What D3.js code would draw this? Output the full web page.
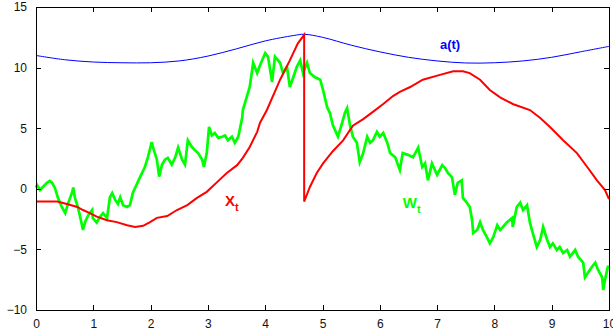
<!DOCTYPE html>
<html>
<head>
<meta charset="utf-8">
<script src="https://cdn.jsdelivr.net/npm/d3@7"></script>
<style>
body { margin: 0; background: #fff; }
svg { font-family: "Liberation Sans", Arial, Helvetica, sans-serif; }
</style>
</head>
<body>
<svg width="613" height="332"></svg>
<script>
// a(t): smooth boundary
var tA = [0, 0.5, 1, 1.5, 2, 2.5, 3, 3.5, 4, 4.5, 4.68, 5, 5.5, 6, 6.5, 7, 7.5, 8, 8.5, 9, 9.5, 10];
var A  = [11.0, 10.65, 10.46, 10.4, 10.4, 10.55, 10.95, 11.55, 12.2, 12.65, 12.75, 12.5, 11.85, 11.3, 10.85, 10.55, 10.38, 10.4, 10.55, 10.85, 11.3, 11.75];

// X_t (red)
var tX = [0, 0.37, 0.54, 0.72, 0.82, 0.94, 1.06, 1.24, 1.41, 1.59, 1.73, 1.87, 1.99, 2.11, 2.29, 2.46, 2.64, 2.81, 2.98,
  3.16, 3.33, 3.51, 3.61, 3.73, 3.86, 3.91, 4.03, 4.26, 4.43, 4.57, 4.68, 4.68, 4.78, 4.9, 5.01, 5.18, 5.36, 5.53, 5.71,
  5.88, 6.06, 6.23, 6.35, 6.53, 6.75, 7.05, 7.28, 7.45, 7.57, 7.75, 7.92, 8.1, 8.32, 8.62, 8.8, 8.97, 9.2, 9.44, 9.62,
  9.79, 9.93, 10];
var X  = [-1.05, -1.05, -1.25, -1.5, -1.75, -2.0, -2.3, -2.6, -2.75, -3.0, -3.15, -3.05, -2.75, -2.4, -2.25, -1.75, -1.35, -0.75, -0.25,
  0.55, 1.3, 1.95, 2.55, 3.45, 4.7, 5.45, 6.5, 9.0, 10.6, 12.0, 12.7, -1.05, 0.15, 1.3, 2.1, 3.1, 4.0, 5.2, 5.75,
  6.35, 7.0, 7.65, 8.0, 8.4, 9.0, 9.4, 9.7, 9.7, 9.55, 9.0, 8.15, 7.55, 7.0, 6.5, 5.85, 5.1, 4.0, 2.95, 1.8,
  0.7, -0.1, -0.85];

// W_t (green)
var tW = [0, 0.02, 0.07, 0.12, 0.19, 0.24, 0.28, 0.33, 0.38, 0.45, 0.51, 0.56, 0.63, 0.65, 0.68, 0.73, 0.77, 0.82, 0.86, 0.91,
  0.98, 0.99, 1.06, 1.12, 1.17, 1.24, 1.29, 1.33, 1.38, 1.43, 1.47, 1.52, 1.59, 1.64, 1.69, 1.76, 1.82, 1.9, 1.95, 2.02,
  2.04, 2.11, 2.15, 2.2, 2.25, 2.3, 2.37, 2.43, 2.48, 2.55, 2.6, 2.65, 2.72, 2.77, 2.83, 2.9, 2.93, 2.98, 3.02, 3.07,
  3.12, 3.18, 3.25, 3.3, 3.35, 3.42, 3.47, 3.53, 3.6, 3.61, 3.73, 3.79, 3.86, 3.91, 4.0, 4.05, 4.12, 4.17, 4.26, 4.31,
  4.38, 4.43, 4.49, 4.55, 4.61, 4.66, 4.73, 4.78, 4.87, 4.96, 5.01, 5.08, 5.13, 5.18, 5.27, 5.34, 5.39, 5.43, 5.48, 5.53,
  5.6, 5.65, 5.71, 5.78, 5.83, 5.88, 5.95, 6.0, 6.06, 6.13, 6.18, 6.27, 6.35, 6.4, 6.49, 6.58, 6.67, 6.74, 6.79, 6.84,
  6.91, 7.0, 7.09, 7.14, 7.19, 7.26, 7.31, 7.36, 7.43, 7.45, 7.52, 7.57, 7.61, 7.63, 7.7, 7.75, 7.8, 7.87, 7.92, 7.98,
  8.05, 8.1, 8.15, 8.22, 8.31, 8.32, 8.39, 8.45, 8.5, 8.57, 8.62, 8.67, 8.74, 8.8, 8.85, 8.92, 8.97, 9.02, 9.09, 9.14,
  9.2, 9.27, 9.32, 9.41, 9.46, 9.55, 9.58, 9.63, 9.7, 9.76, 9.81, 9.88, 9.9, 9.93, 9.98, 10];
var W  = [0.1, 0.3, -0.1, 0.15, 0.5, 0.65, 0.5, 0.07, -0.7, -1.5, -2.0, -1.2, -0.3, 0.1, -0.75, -1.5, -2.3, -3.4, -2.7, -2.2,
  -1.75, -2.4, -2.8, -2.3, -2.0, -2.4, -0.7, -0.35, -0.9, -1.25, -0.7, -1.35, -1.5, -1.35, -0.35, 0.4, 1.0, 1.8, 2.55, 3.85,
  3.45, 2.4, 1.0, 2.0, 2.4, 2.55, 2.0, 2.6, 3.4, 2.4, 2.0, 4.0, 3.45, 3.2, 2.95, 2.4, 1.8, 2.95, 5.1, 4.4,
  4.6, 4.2, 4.3, 4.4, 4.0, 4.3, 3.8, 4.3, 5.9, 6.5, 8.4, 10.4, 9.55, 10.2, 11.2, 10.9, 8.8, 10.9, 10.4, 9.55,
  10.05, 8.4, 9.2, 10.05, 10.6, 9.55, 10.4, 9.55, 9.2, 9.0, 8.15, 6.75, 6.25, 5.25, 4.3, 5.4, 6.25, 6.65, 5.25, 4.3,
  3.8, 2.2, 2.95, 4.3, 3.8, 4.0, 4.7, 4.3, 4.6, 3.8, 2.95, 2.6, 1.55, 2.95, 2.8, 2.6, 3.4, 1.8, 2.1, 0.7,
  2.1, 1.15, 1.95, 1.7, 1.3, 0.95, -0.5, 0.5, 0.7, -0.75, -1.15, -1.5, -2.55, -3.65, -3.4, -2.75, -3.4, -4.0, -4.5, -4.0,
  -3.0, -3.4, -3.15, -2.75, -2.4, -3.15, -1.5, -1.15, -1.75, -1.35, -2.8, -3.65, -4.8, -4.2, -3.15, -4.2, -4.8, -4.5, -5.05, -4.8,
  -5.3, -5.05, -5.6, -5.05, -5.6, -6.1, -7.3, -6.95, -6.45, -6.1, -6.7, -7.3, -8.35, -7.5, -6.45, -6.45];

var xTicks = [0, 1, 2, 3, 4, 5, 6, 7, 8, 9, 10];
var yTicks = [-10, -5, 0, 5, 10, 15];

var svg = d3.select('svg');
var x = d3.scaleLinear().domain([0, 10]).range([36, 609]);
var y = d3.scaleLinear().domain([-10, 15]).range([310, 7]);

function pts(ts, vs) {
	return ts.map(function(t, i) { return [t, vs[i]]; });
}

var line = d3.line()
	.x(function(d) { return x(d[0]); })
	.y(function(d) { return y(d[1]); });

svg.append('path')
	.attr('d', line(pts(tW, W)))
	.attr('fill', 'none')
	.attr('stroke', '#00ff00')
	.attr('stroke-width', 2.7)
	.attr('stroke-linejoin', 'miter');

svg.append('path')
	.attr('d', line.curve(d3.curveCatmullRom)(pts(tA, A)))
	.attr('fill', 'none')
	.attr('stroke', '#0000ff')
	.attr('stroke-width', 1);

svg.append('path')
	.attr('d', line.curve(d3.curveLinear)(pts(tX, X)))
	.attr('fill', 'none')
	.attr('stroke', '#ff0000')
	.attr('stroke-width', 2);

// axes, boxed with inward ticks
function fmt(d) { return d3.format('')(d); }
var g = svg.append('g').attr('shape-rendering', 'crispEdges');
g.append('g').attr('transform', 'translate(0,310)')
	.call(d3.axisBottom(x).tickValues(xTicks).tickSizeInner(-5).tickSizeOuter(0).tickPadding(9).tickFormat(fmt));
g.append('g').attr('transform', 'translate(0,7)')
	.call(d3.axisTop(x).tickValues(xTicks).tickSizeInner(-5).tickSizeOuter(0).tickFormat(''));
g.append('g').attr('transform', 'translate(36,0)')
	.call(d3.axisLeft(y).tickValues(yTicks).tickSizeInner(-5).tickSizeOuter(0).tickPadding(9).tickFormat(fmt));
g.append('g').attr('transform', 'translate(609,0)')
	.call(d3.axisRight(y).tickValues(yTicks).tickSizeInner(-5).tickSizeOuter(0).tickFormat(''));

g.selectAll('.domain, .tick line').attr('stroke', '#000');
svg.selectAll('.tick text').attr('font-size', 12).attr('fill', '#111')
	.attr('font-family', '"Liberation Sans", Arial, sans-serif');

// labels
svg.append('text').attr('x', x(7.05)).attr('y', y(11.55))
	.attr('fill', '#0000ff').attr('font-size', 13).attr('font-weight', 'bold').text('a(t)');

var xl = svg.append('text').attr('x', x(3.3)).attr('y', y(-1.4))
	.attr('fill', '#ff0000').attr('font-size', 15).attr('font-weight', 'bold');
xl.append('tspan').text('X');
xl.append('tspan').attr('font-size', 11).attr('dy', 5).text('t');

var wl = svg.append('text').attr('x', x(6.4)).attr('y', y(-1.55))
	.attr('fill', '#00ff00').attr('font-size', 15).attr('font-weight', 'bold');
wl.append('tspan').text('W');
wl.append('tspan').attr('font-size', 11).attr('dy', 5).text('t');
</script>
</body>
</html>
